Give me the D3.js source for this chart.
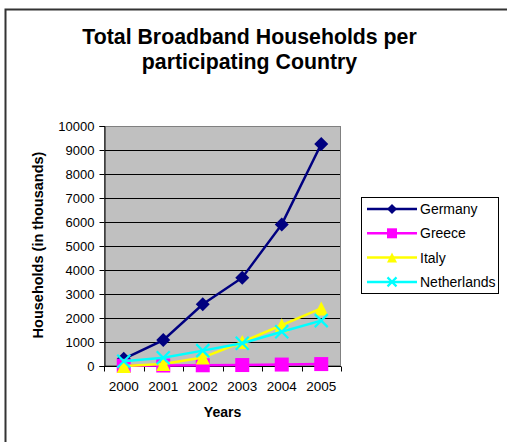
<!DOCTYPE html>
<html><head><meta charset="utf-8">
<script src="https://cdn.jsdelivr.net/npm/d3@7"></script>
<style>body{margin:0;background:#fff}svg{display:block}svg text{font-family:"Liberation Sans",Arial,sans-serif}</style>
</head><body><svg id="c" width="507" height="442"></svg>
<script>
const years = ["2000","2001","2002","2003","2004","2005"];
const germany = [300, 1080, 2570, 3680, 5900, 9250];
const greece = [10, 20, 30, 40, 60, 80];
const italy = [0, 80, 350, 1000, 1700, 2400];
const netherlands = [200, 340, 640, 950, 1430, 1890];
const yTicks = [0,1000,2000,3000,4000,5000,6000,7000,8000,9000,10000];
const titleLines = ["Total Broadband Households per", "participating Country"];

const series = [
  {name:"Germany", values:germany, color:"#000080", marker:"diamond"},
  {name:"Greece", values:greece, color:"#ff00ff", marker:"square"},
  {name:"Italy", values:italy, color:"#ffff00", marker:"triangle"},
  {name:"Netherlands", values:netherlands, color:"#00ffff", marker:"x"}
];

const FF = "'Liberation Sans', Arial, sans-serif";
const svg = d3.select("#c");
svg.append("path").attr("d","M5.5,442 L5.5,9.5 L507,9.5").attr("fill","none").attr("stroke","#333").attr("stroke-width",2);

const L=104, R=341, T=126, B=366;
const x = d3.scaleBand().domain(years).range([L,R]);
const y = d3.scaleLinear().domain([0,10000]).range([B,T]);

svg.append("rect").attr("x",L).attr("y",T).attr("width",R-L).attr("height",B-T).attr("fill","#c0c0c0");
svg.append("g").selectAll("line").data(yTicks.slice(1)).join("line")
  .attr("x1",L).attr("x2",R).attr("y1",d=>Math.round(y(d))+0.5).attr("y2",d=>Math.round(y(d))+0.5)
  .attr("stroke","#000").attr("stroke-width",1);
svg.append("rect").attr("x",L+0.5).attr("y",T+0.5).attr("width",R-L-1).attr("height",B-T-1).attr("fill","none").attr("stroke","#808080");

const ya = svg.append("g").attr("transform",`translate(${L+0.5},0)`)
  .call(d3.axisLeft(y).tickValues(yTicks).tickSize(5).tickPadding(5).tickFormat(d3.format("d")));
ya.select(".domain").attr("stroke","#000");
ya.selectAll(".tick line").attr("stroke","#000");
ya.selectAll("text").attr("font-size",13).attr("fill","#000").attr("font-family",FF).attr("dy","0.36em");

const xg = svg.append("g").attr("transform",`translate(0,${B+0.5})`);
xg.append("line").attr("x1",L).attr("x2",R).attr("stroke","#000");
const bounds = years.map(d=>x(d)).concat([x(years[years.length-1])+x.bandwidth()]);
xg.selectAll("line.t").data(bounds).join("line").attr("class","t")
  .attr("x1",d=>Math.round(d)+0.5).attr("x2",d=>Math.round(d)+0.5).attr("y1",0).attr("y2",5).attr("stroke","#000");
xg.selectAll("text").data(years).join("text")
  .attr("x",d=>x(d)+x.bandwidth()/2).attr("y",24.5).attr("text-anchor","middle").attr("font-size",13.5).attr("font-family",FF).text(d=>d);

const cx = d => x(d)+x.bandwidth()/2;

function drawMarker(g, type, px, py, s, color){
  if(type==="diamond"){
    g.append("path").attr("d",`M${px},${py-s/2} L${px+s/2},${py} L${px},${py+s/2} L${px-s/2},${py} Z`).attr("fill",color);
  } else if(type==="square"){
    g.append("rect").attr("x",px-s/2).attr("y",py-s/2).attr("width",s).attr("height",s).attr("fill",color);
  } else if(type==="triangle"){
    g.append("path").attr("d",`M${px},${py-s/2} L${px+s/2},${py+s/2} L${px-s/2},${py+s/2} Z`).attr("fill",color);
  } else {
    const h=s/2;
    g.append("path").attr("d",`M${px-h},${py-h} L${px+h},${py+h} M${px-h},${py+h} L${px+h},${py-h}`).attr("stroke",color).attr("stroke-width",2.2).attr("fill","none");
  }
}

const line = d3.line().x((d,i)=>cx(years[i])).y(d=>y(d));
series.forEach(s=>{
  const g = svg.append("g");
  g.append("path").attr("d",line(s.values)).attr("fill","none").attr("stroke",s.color).attr("stroke-width",2.5);
  s.values.forEach((v,i)=>drawMarker(g,s.marker,cx(years[i]),y(v),s.marker==="x"?13:14,s.color));
});

svg.append("text").attr("x",249.5).attr("y",44).attr("text-anchor","middle").attr("font-size",21.3).attr("font-weight","bold").attr("font-family",FF).text(titleLines[0]);
svg.append("text").attr("x",249.5).attr("y",69).attr("text-anchor","middle").attr("font-size",21.3).attr("font-weight","bold").attr("font-family",FF).text(titleLines[1]);
svg.append("text").attr("x",222.5).attr("y",416.5).attr("text-anchor","middle").attr("font-size",14).attr("font-weight","bold").attr("font-family",FF).text("Years");
svg.append("text").attr("transform",`translate(43,${(T+B)/2-1}) rotate(-90)`).attr("text-anchor","middle").attr("font-size",14.5).attr("font-weight","bold").attr("font-family",FF).text("Households (in thousands)");

const lg = svg.append("g");
lg.append("rect").attr("x",361.5).attr("y",197.5).attr("width",137).attr("height",96).attr("fill","#fff").attr("stroke","#000");
series.forEach((s,i)=>{
  const ly = 209 + i*24.3;
  lg.append("line").attr("x1",367).attr("x2",417).attr("y1",ly).attr("y2",ly).attr("stroke",s.color).attr("stroke-width",2.5);
  drawMarker(lg,s.marker,392,ly,s.marker==="x"?9:10,s.color);
  lg.append("text").attr("x",420).attr("y",ly+5).attr("font-size",14).attr("font-family",FF).text(s.name);
});
</script></body></html>
